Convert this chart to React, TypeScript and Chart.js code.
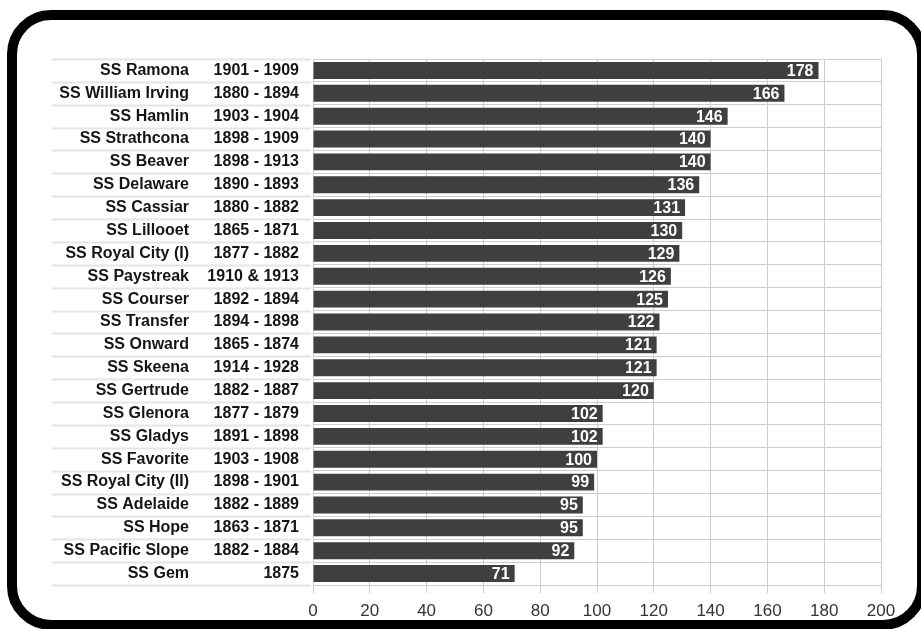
import React, { useEffect, useRef } from "react";
import { Chart, registerables } from "chart.js";

Chart.register(...registerables);

const ships = [
  "SS Ramona", "SS William Irving", "SS Hamlin", "SS Strathcona", "SS Beaver",
  "SS Delaware", "SS Cassiar", "SS Lillooet", "SS Royal City (I)", "SS Paystreak",
  "SS Courser", "SS Transfer", "SS Onward", "SS Skeena", "SS Gertrude",
  "SS Glenora", "SS Gladys", "SS Favorite", "SS Royal City (II)", "SS Adelaide",
  "SS Hope", "SS Pacific Slope", "SS Gem",
];

const years = [
  "1901 - 1909", "1880 - 1894", "1903 - 1904", "1898 - 1909", "1898 - 1913",
  "1890 - 1893", "1880 - 1882", "1865 - 1871", "1877 - 1882", "1910 & 1913",
  "1892 - 1894", "1894 - 1898", "1865 - 1874", "1914 - 1928", "1882 - 1887",
  "1877 - 1879", "1891 - 1898", "1903 - 1908", "1898 - 1901", "1882 - 1889",
  "1863 - 1871", "1882 - 1884", "1875",
];

const lengths = [
  178, 166, 146, 140, 140, 136, 131, 130, 129, 126, 125, 122, 121, 121, 120,
  102, 102, 100, 99, 95, 95, 92, 71,
];

const FONT = "'Liberation Sans', Arial, sans-serif";

const labelPlugin = {
  id: "labelColumns",
  beforeDatasetsDraw(chart: any) {
    const ctx = chart.ctx;
    const y = chart.scales.y;
    const left = chart.chartArea.left;
    ctx.save();
    ctx.strokeStyle = "#e6e6e6";
    ctx.lineWidth = 2;
    const n = ships.length;
    for (let i = 0; i <= n; i++) {
      let py: number;
      if (i === 0) py = chart.chartArea.top;
      else if (i === n) py = chart.chartArea.bottom;
      else py = (y.getPixelForValue(i - 1) + y.getPixelForValue(i)) / 2;
      ctx.beginPath();
      ctx.moveTo(52, Math.round(py) + 0.5);
      ctx.lineTo(left - 2, Math.round(py) + 0.5);
      ctx.stroke();
    }
    ctx.fillStyle = "#151515";
    ctx.font = `bold 16px ${FONT}`;
    ctx.textAlign = "right";
    ctx.textBaseline = "middle";
    for (let i = 0; i < n; i++) {
      const py = y.getPixelForValue(i);
      ctx.fillText(ships[i], 189, py);
      ctx.fillText(years[i], 299, py);
    }
    ctx.restore();
  },
  afterDatasetsDraw(chart: any) {
    const ctx = chart.ctx;
    const meta = chart.getDatasetMeta(0);
    ctx.save();
    ctx.fillStyle = "#ffffff";
    ctx.font = `bold 16px ${FONT}`;
    ctx.textAlign = "right";
    ctx.textBaseline = "middle";
    meta.data.forEach((bar: any, i: number) => {
      ctx.fillText(String(lengths[i]), bar.x - 5, bar.y + 1);
    });
    ctx.restore();
  },
};

export default function App() {
  const ref = useRef<HTMLCanvasElement>(null);

  useEffect(() => {
    if (!ref.current) return;
    const chart = new Chart(ref.current, {
      type: "bar",
      data: {
        labels: ships,
        datasets: [
          {
            data: lengths,
            backgroundColor: "#3f3f3f",
            borderWidth: 0,
            barPercentage: 0.74,
            categoryPercentage: 1,
          },
        ],
      },
      options: {
        indexAxis: "y",
        animation: false,
        responsive: false,
        layout: { padding: { left: 313, right: 40, top: 59, bottom: 0 } },
        plugins: { legend: { display: false }, tooltip: { enabled: false } },
        scales: {
          x: {
            min: 0,
            max: 200,
            ticks: {
              stepSize: 20,
              color: "#333333",
              font: { family: FONT, size: 17 },
              padding: 8,
            },
            grid: { color: "#cccccc", tickLength: 8, tickColor: "#cccccc" },
            border: { display: false },
            afterFit: (s: any) => {
              s.height = 44;
            },
          },
          y: {
            ticks: { display: false },
            grid: { color: "#cccccc", drawTicks: false, offset: true },
            border: { display: false },
            afterFit: (s: any) => {
              s.width = 0;
            },
          },
        },
      },
      plugins: [labelPlugin],
    });
    return () => chart.destroy();
  }, []);

  return (
    <div style={{ position: "fixed", left: 0, top: 0, width: 921, height: 629, background: "#fff", overflow: "hidden" }}>
      <canvas ref={ref} width={921} height={629} style={{ position: "absolute", left: 0, top: 0 }} />
      <div
        style={{
          position: "absolute",
          left: 7,
          top: 10,
          width: 920,
          height: 620,
          boxSizing: "border-box",
          border: "10px solid #000",
          borderRadius: 44,
          pointerEvents: "none",
        }}
      />
    </div>
  );
}
